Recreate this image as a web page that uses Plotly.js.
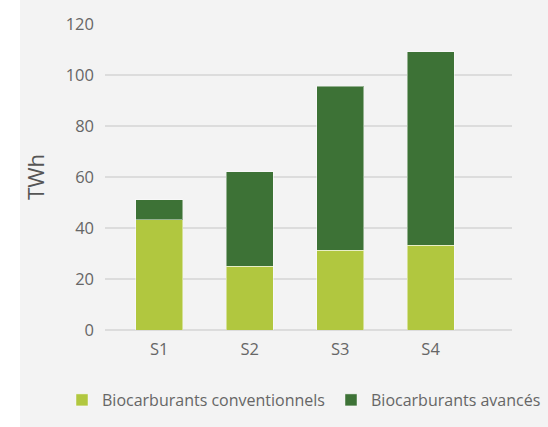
<!DOCTYPE html>
<html>
<head>
<meta charset="utf-8">
<script src="https://cdn.plot.ly/plotly-3.0.1.min.js"></script>
<style>
html,body{margin:0;padding:0;background:#ffffff;}
#chart{position:absolute;left:20px;top:0;width:528px;height:427px;}
</style>
</head>
<body>
<div id="chart"></div>
<script>
var scenarios = ["S1", "S2", "S3", "S4"];
var conventionnels = [43.3, 25.0, 31.3, 33.3];
var avances = [7.8, 37.1, 64.3, 75.8];
var yTicks = [0, 20, 40, 60, 80, 100, 120];

var traces = [
  {
    type: "bar", name: "Biocarburants conventionnels",
    x: scenarios, y: conventionnels,
    marker: {color: "#b1c73f", line: {color: "rgba(255,255,255,0.45)", width: 1}},
    legend: "legend",
    hoverinfo: "skip"
  },
  {
    type: "bar", name: "Biocarburants avancés",
    x: scenarios, y: avances,
    marker: {color: "#3d7236", line: {color: "rgba(255,255,255,0.45)", width: 1}},
    legend: "legend2",
    hoverinfo: "skip"
  }
];

var legendBase = {
  orientation: "h", xref: "container", yref: "container", y: 27 / 427,
  xanchor: "left", yanchor: "middle",
  font: {size: 16, color: "#666666"},
  bgcolor: "rgba(0,0,0,0)",
  itemclick: false, itemdoubleclick: false
};

var layout = {
  width: 528, height: 427,
  barmode: "stack",
  bargap: 0.48,
  paper_bgcolor: "#f3f3f3",
  plot_bgcolor: "#f3f3f3",
  font: {family: "Open Sans, sans-serif", color: "#666666", size: 16},
  margin: {l: 85, r: 36, t: 24, b: 97},
  xaxis: {
    range: [-0.6, 3.9],
    showgrid: false, zeroline: false, showline: false,
    ticks: "", ticklabelstandoff: 7,
    tickfont: {size: 16.5, color: "#666666"}
  },
  yaxis: {
    range: [0, 120],
    tickvals: yTicks,
    showgrid: true, gridcolor: "#dcdcdc", gridwidth: 1.5,
    zeroline: true, zerolinecolor: "#dcdcdc", zerolinewidth: 1.5,
    showline: false, ticks: "", ticklabelstandoff: 10,
    tickfont: {size: 16.5, color: "#666666"},
    title: {text: "TWh", font: {size: 22, color: "#555555"}, standoff: 14}
  },
  legend: Object.assign({}, legendBase, {x: 42 / 528}),
  legend2: Object.assign({}, legendBase, {x: 311 / 528}),
  showlegend: true
};

Plotly.newPlot("chart", traces, layout, {displayModeBar: false, staticPlot: true});
</script>
</body>
</html>
